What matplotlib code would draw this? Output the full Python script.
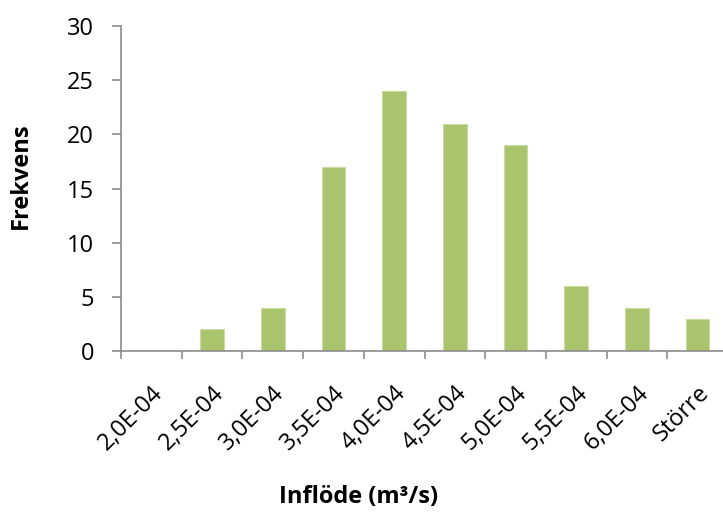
import matplotlib
matplotlib.use("Agg")
import matplotlib.pyplot as plt
import matplotlib.transforms as mtransforms
import numpy as np

categories = ["2,0E-04", "2,5E-04", "3,0E-04", "3,5E-04", "4,0E-04",
              "4,5E-04", "5,0E-04", "5,5E-04", "6,0E-04", "Större"]
frekvens = [0, 2, 4, 17, 24, 21, 19, 6, 4, 3]

plt.rcParams["font.family"] = ["Open Sans", "DejaVu Sans"]
FS = 17

fig = plt.figure(figsize=(7.23, 5.12), dpi=100)
ax = fig.add_axes([121 / 723, 1 - 351 / 512, 607 / 723, (351 - 26) / 512])

x = np.arange(len(categories))
ax.bar(x, frekvens, width=0.39, color="#A9C46C", edgecolor="#C9DBA0", linewidth=0.8, zorder=2)

ax.set_xlim(-0.5, len(categories) - 0.5)
ax.set_ylim(0, 30)
ax.set_yticks(range(0, 31, 5))
ax.tick_params(axis="y", labelsize=FS, length=6.5, width=1.2, color="#8c8c8c", pad=13)

# tick marks on category boundaries, labels at the centres
ax.set_xticks(np.arange(-0.5, len(categories) - 0.5, 1.0))
ax.set_xticklabels([])
ax.tick_params(axis="x", which="major", length=6, width=1.2, color="#8c8c8c")
ax.set_xticks(x, minor=True)
ax.set_xticklabels(categories, minor=True, fontsize=FS, rotation=45, ha="right",
                   va="center", rotation_mode="anchor")
ax.tick_params(axis="x", which="minor", length=0, pad=28)
offset = mtransforms.ScaledTranslation(8 / 100, 0, fig.dpi_scale_trans)
for lbl in ax.get_xticklabels(minor=True):
    lbl.set_transform(lbl.get_transform() + offset)

for side in ["top", "right"]:
    ax.spines[side].set_visible(False)
for side in ["left", "bottom"]:
    ax.spines[side].set_color("#8c8c8c")
    ax.spines[side].set_linewidth(1.2)

ax.set_ylabel("Frekvens", fontsize=FS, fontweight="bold")
ax.yaxis.set_label_coords((33 - 121) / 607, (351 - 176) / 325)
fig.text(359 / 723, 1 - 497 / 512, "Inflöde (m³/s)", fontsize=FS, fontweight="bold",
         ha="center", va="center")

fig.savefig("out.png", dpi=100)
